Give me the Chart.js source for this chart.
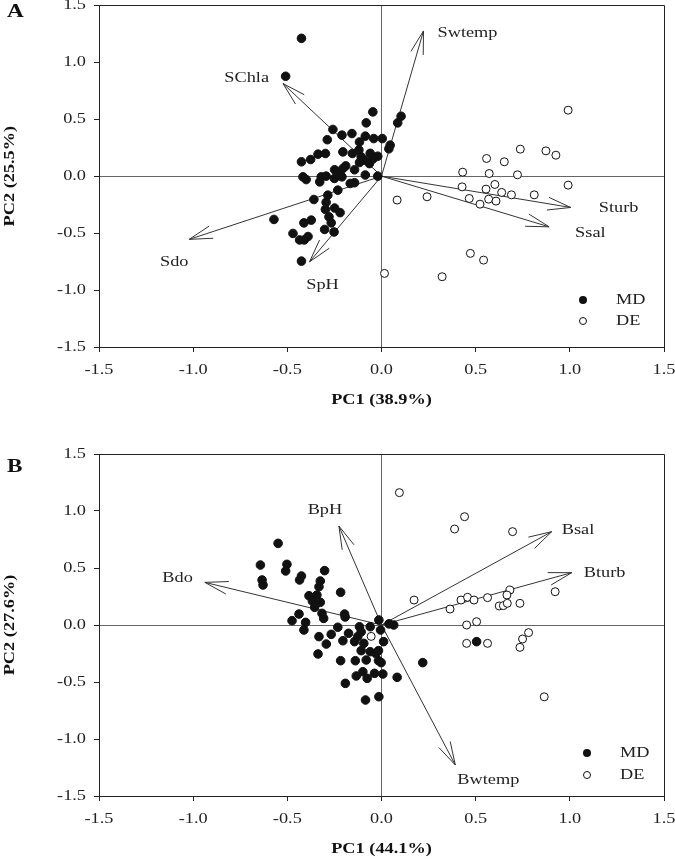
<!DOCTYPE html>
<html>
<head>
<meta charset="utf-8">
<script src="https://cdn.jsdelivr.net/npm/chart.js@4.4.1/dist/chart.umd.min.js"></script>
<style>
  html, body { margin: 0; padding: 0; background: #fff; }
  #wrap { position: relative; width: 675px; height: 859px; }
  canvas { position: absolute; left: 0; }
  #chartA { top: 0; }
  #chartB { top: 430px; }
</style>
</head>
<body>
<div id="wrap">
  <canvas id="chartA" width="675" height="430"></canvas>
  <canvas id="chartB" width="675" height="429"></canvas>
</div>
<script>
// ---- Panel A (superficie) ----
const mdA_x = [-0.425, -0.509, -0.046, 0.104, 0.086, -0.081, -0.258, -0.21, -0.157, -0.086, -0.041, 0.004, -0.117, -0.288, 0.046, 0.039,
  -0.337, -0.298, -0.376, -0.425, -0.205, -0.155, -0.108, -0.09, -0.046, -0.02, -0.117, -0.064, -0.205, -0.249, -0.143, -0.02, -0.086,
  -0.417, -0.40, -0.32, -0.294, -0.25, -0.328, -0.21, -0.166, -0.143, -0.232, -0.359, -0.285, -0.294, -0.298, -0.249, -0.22, -0.279,
  -0.267, -0.373, -0.412, -0.571, -0.302, -0.252, -0.47, -0.435, -0.41, -0.39, -0.425, -0.23, -0.19, -0.12, -0.06];
const mdA_y = [1.21, 0.877, 0.564, 0.526, 0.468, 0.468, 0.41, 0.36, 0.374, 0.351, 0.33, 0.33, 0.30, 0.32, 0.272, 0.24,
  0.193, 0.199, 0.146, 0.126, 0.213, 0.199, 0.17, 0.14, 0.15, 0.175, 0.12, 0.11, 0.067, 0.056, 0.056, 0.0, 0.01,
  -0.006, -0.03, -0.006, 0.0, -0.02, -0.05, -0.006, -0.064, -0.058, -0.123, -0.205, -0.167, -0.23, -0.292, -0.28, -0.32, -0.357,
  -0.41, -0.386, -0.41, -0.38, -0.468, -0.49, -0.503, -0.56, -0.56, -0.53, -0.746, 0.03, 0.09, 0.23, 0.2];
const deA_x = [0.991, 0.737, 0.873, 0.926, 0.558, 0.652, 0.431, 0.572, 0.722, 0.991, 0.428, 0.555, 0.602, 0.638, 0.69, 0.811,
  0.466, 0.569, 0.608, 0.523, 0.242, 0.083, 0.472, 0.542, 0.016, 0.322];
const deA_y = [0.579, 0.237, 0.222, 0.184, 0.155, 0.126, 0.035, 0.023, 0.012, -0.079, -0.094, -0.114, -0.073, -0.143, -0.164, -0.164,
  -0.196, -0.202, -0.219, -0.246, -0.181, -0.21, -0.678, -0.737, -0.854, -0.883];
const varsA = ['Swtemp', 'SChla', 'Sdo', 'SpH', 'Sturb', 'Ssal'];
const cargaA_x = [0.223, -0.523, -1.021, -0.382, 1.005, 0.89];
const cargaA_y = [1.275, 0.813, -0.555, -0.752, -0.275, -0.445];

// ---- Panel B (fondo) ----
const mdB_x = [-0.549, -0.643, -0.502, -0.509, -0.302, -0.634, -0.629, -0.425, -0.435, -0.325, -0.332, -0.217, -0.385, -0.343, -0.367,
  -0.325, -0.355, -0.316, -0.307, -0.196, -0.193, -0.438, -0.475, -0.403, -0.412, -0.014, 0.065, -0.232, -0.117, -0.06, -0.175, -0.267,
  -0.332, -0.293, -0.205, -0.126, -0.108, -0.005, 0.011, -0.143, -0.094, -0.337, -0.108, -0.06, -0.016, -0.217, -0.139, -0.081, -0.016,
  -0.002, -0.099, -0.037, 0.007, -0.134, -0.076, 0.083, -0.192, -0.085, -0.014, 0.505, 0.219, 0.04, -0.03];
const mdB_y = [0.716, 0.526, 0.532, 0.474, 0.477, 0.395, 0.351, 0.43, 0.395, 0.386, 0.336, 0.287, 0.257, 0.263, 0.21,
  0.199, 0.155, 0.102, 0.058, 0.096, 0.07, 0.096, 0.038, 0.023, -0.044, 0.044, 0.0, -0.02, -0.015, -0.015, -0.073, -0.082,
  -0.102, -0.167, -0.138, -0.102, -0.06, -0.044, -0.146, -0.146, -0.161, -0.254, -0.225, -0.234, -0.225, -0.313, -0.313, -0.307, -0.313,
  -0.33, -0.41, -0.424, -0.43, -0.447, -0.468, -0.459, -0.512, -0.658, -0.629, -0.146, -0.33, 0.01, -0.25];
const deB_x = [0.095, 0.441, 0.388, 0.696, 0.173, 0.364, 0.422, 0.457, 0.491, 0.563, 0.682, 0.666, 0.625, 0.647, 0.668, 0.735,
  0.922, 0.452, 0.505, 0.781, 0.749, 0.735, 0.452, 0.563, 0.864, -0.055];
const deB_y = [1.161, 0.95, 0.842, 0.819, 0.219, 0.14, 0.219, 0.243, 0.219, 0.24, 0.307, 0.263, 0.167, 0.17, 0.19, 0.19,
  0.292, 0.0, 0.029, -0.067, -0.123, -0.196, -0.161, -0.161, -0.63, -0.10];
const varsB = ['BpH', 'Bdo', 'Bsal', 'Bturb', 'Bwtemp'];
const cargaB_x = [-0.226, -0.938, 0.904, 1.01, 0.392];
const cargaB_y = [0.868, 0.374, 0.819, 0.459, -1.228];

const FUENTE = '"Liberation Serif", "Times New Roman", serif';

function puntos(xs, ys) {
    return xs.map((x, i) => ({ x: x, y: ys[i] }));
}

// el texto del original sale ensanchado horizontalmente
function estirarTexto(canvas, factor) {
    const ctx = canvas.getContext('2d');
    const fillOriginal = ctx.fillText;
    ctx.fillText = function (texto, x, y) {
        this.save();
        this.translate(x, y);
        this.scale(factor, 1);
        fillOriginal.call(this, texto, 0, 0);
        this.restore();
    };
}

function crearBiplot(idCanvas, p) {
    const datasets = [
        { label: 'MD', data: puntos(p.mdX, p.mdY), pointRadius: 4.3, pointBackgroundColor: '#111', pointBorderColor: '#111', pointBorderWidth: 1, order: 0 },
        { label: 'DE', data: puntos(p.deX, p.deY), pointRadius: 4, pointBackgroundColor: '#fff', pointBorderColor: '#111', pointBorderWidth: 1, order: 0 }
    ];
    p.vars.forEach((nombre, i) => {
        datasets.push({
            label: nombre,
            data: [{ x: 0, y: 0 }, { x: p.cargaX[i], y: p.cargaY[i] }],
            showLine: true, pointRadius: 0, borderColor: '#333', borderWidth: 1, order: 1
        });
    });

    // puntas de flecha y nombres de variables
    const flechas = {
        id: 'flechas',
        afterDatasetsDraw(chart) {
            const { ctx, scales: { x, y } } = chart;
            const ox = x.getPixelForValue(0), oy = y.getPixelForValue(0);
            ctx.save();
            ctx.strokeStyle = '#333';
            ctx.lineWidth = 1;
            ctx.font = '15px ' + FUENTE;
            ctx.fillStyle = '#222';
            p.vars.forEach((nombre, i) => {
                const px = x.getPixelForValue(p.cargaX[i]);
                const py = y.getPixelForValue(p.cargaY[i]);
                const ang = Math.atan2(py - oy, px - ox);
                [-1, 1].forEach(s => {
                    const a = ang + Math.PI + s * 0.27;
                    ctx.beginPath();
                    ctx.moveTo(px, py);
                    ctx.lineTo(px + 24 * Math.cos(a), py + 24 * Math.sin(a));
                    ctx.stroke();
                });
                const et = p.etiquetas[i];
                ctx.textAlign = et[2];
                ctx.textBaseline = 'middle';
                ctx.fillText(nombre, px + et[0], py + et[1]);
            });
            ctx.restore();
        }
    };

    // marco, letra del panel y leyenda
    const adornos = {
        id: 'adornos',
        afterDraw(chart) {
            const { ctx, chartArea: ca } = chart;
            ctx.save();
            ctx.strokeStyle = '#222';
            ctx.lineWidth = 1;
            ctx.beginPath();
            ctx.moveTo(Math.round(ca.left) + 0.5, Math.round(ca.top) + 0.5);
            ctx.lineTo(Math.round(ca.right) + 0.5, Math.round(ca.top) + 0.5);
            ctx.lineTo(Math.round(ca.right) + 0.5, Math.round(ca.bottom) + 0.5);
            ctx.stroke();

            ctx.fillStyle = '#111';
            ctx.font = 'bold 19px ' + FUENTE;
            ctx.textAlign = 'left';
            ctx.textBaseline = 'middle';
            ctx.fillText(p.letra, 7, p.letraY);

            const lx = ca.right - p.leyenda[0];
            const tx = ca.right - p.leyenda[1];
            const y1 = ca.bottom - p.leyenda[2];
            const y2 = ca.bottom - p.leyenda[3];
            ctx.beginPath();
            ctx.arc(lx, y1, 4, 0, Math.PI * 2);
            ctx.fillStyle = '#111';
            ctx.fill();
            ctx.beginPath();
            ctx.arc(lx, y2, 3.5, 0, Math.PI * 2);
            ctx.fillStyle = '#fff';
            ctx.fill();
            ctx.strokeStyle = '#111';
            ctx.stroke();
            ctx.fillStyle = '#222';
            ctx.font = '15px ' + FUENTE;
            ctx.fillText('MD', tx, y1);
            ctx.fillText('DE', tx, y2);
            ctx.restore();
        }
    };

    const ejeComun = {
        min: -1.5, max: 1.5,
        ticks: {
            stepSize: 0.5,
            callback: v => v.toFixed(1),
            font: { family: FUENTE, size: 15 },
            color: '#222',
            maxRotation: 0,
            autoSkip: false
        },
        grid: {
            color: c => (c.tick && Math.abs(c.tick.value) < 1e-9) ? '#666' : 'rgba(0,0,0,0)',
            tickColor: '#222',
            tickLength: 5,
            lineWidth: 1
        },
        border: { color: '#222', width: 1 }
    };

    const canvas = document.getElementById(idCanvas);
    estirarTexto(canvas, 1.22);

    new Chart(canvas, {
        type: 'scatter',
        data: { datasets: datasets },
        options: {
            responsive: false,
            animation: false,
            layout: { padding: { top: p.arriba, right: 11, left: 0, bottom: 0 } },
            plugins: { legend: { display: false }, tooltip: { enabled: false } },
            scales: {
                x: {
                    ...ejeComun,
                    ticks: { ...ejeComun.ticks, padding: 9 },
                    title: { display: true, text: p.tituloX, color: '#111', font: { family: FUENTE, size: 15, weight: 'bold' }, padding: { top: 0, bottom: p.padTituloX } },
                    afterFit: s => { s.height = p.altoEjeX; s.paddingLeft = 0; s.paddingRight = 0; }
                },
                y: {
                    ...ejeComun,
                    ticks: { ...ejeComun.ticks, padding: 8 },
                    title: { display: true, text: p.tituloY, color: '#111', font: { family: FUENTE, size: 15, weight: 'bold' }, padding: { top: 1, bottom: 0 } },
                    afterFit: s => { s.width = 99; s.paddingTop = 0; s.paddingBottom = 0; }
                }
            }
        },
        plugins: [flechas, adornos]
    });
}

crearBiplot('chartA', {
    mdX: mdA_x, mdY: mdA_y, deX: deA_x, deY: deA_y,
    vars: varsA, cargaX: cargaA_x, cargaY: cargaA_y,
    etiquetas: [[14, 2, 'left'], [-14, -5, 'right'], [-15, 23, 'center'], [13, 23, 'center'], [28, 1, 'left'], [26, 6, 'left']],
    tituloX: 'PC1 (38.9%)', tituloY: 'PC2 (25.5%)',
    arriba: 5, altoEjeX: 83, padTituloX: 21,
    letra: 'A', letraY: 12,
    leyenda: [81, 48, 47, 26]
});

crearBiplot('chartB', {
    mdX: mdB_x, mdY: mdB_y, deX: deB_x, deY: deB_y,
    vars: varsB, cargaX: cargaB_x, cargaY: cargaB_y,
    etiquetas: [[-14, -16, 'center'], [-12, -4, 'right'], [10, -2, 'left'], [12, 0, 'left'], [2, 15, 'left']],
    tituloX: 'PC1 (44.1%)', tituloY: 'PC2 (27.6%)',
    arriba: 24, altoEjeX: 63, padTituloX: 1,
    letra: 'B', letraY: 37,
    leyenda: [77, 44, 43, 21]
});
</script>
</body>
</html>
